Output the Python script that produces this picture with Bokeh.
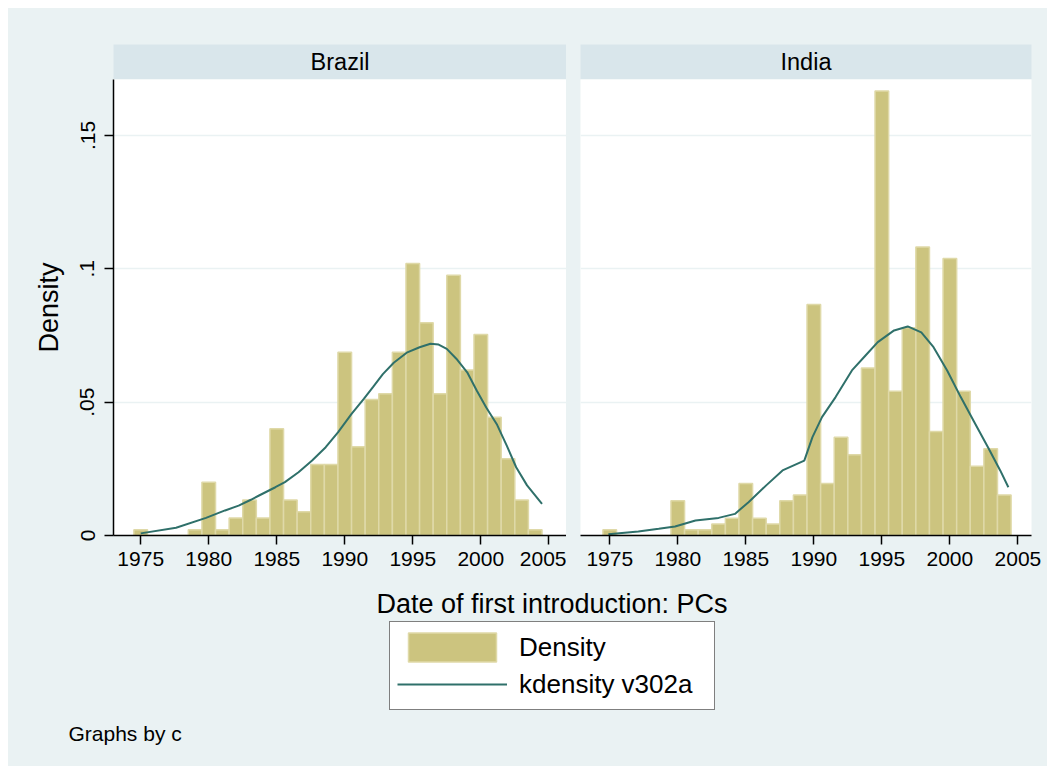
from bokeh.plotting import figure
from bokeh.layouts import column, row
from bokeh.models import Range1d, FixedTicker, Label, Legend, LegendItem
from bokeh.embed import file_html
from bokeh.resources import INLINE

# ---------------- data ----------------
years = list(range(1975, 2005))

brazil_density = [0.0022, 0.0, 0.0, 0.0, 0.0022, 0.0200, 0.0022, 0.0066, 0.0133, 0.0066,
                  0.0400, 0.0133, 0.0089, 0.0266, 0.0266, 0.0687, 0.0333, 0.0510, 0.0532, 0.0687,
                  0.1020, 0.0798, 0.0532, 0.0976, 0.0621, 0.0754, 0.0443, 0.0288, 0.0133, 0.0022]

india_density = [0.0022, 0.0, 0.0, 0.0, 0.0, 0.0130, 0.0022, 0.0022, 0.0043, 0.0065,
                 0.0195, 0.0065, 0.0043, 0.0130, 0.0152, 0.0866, 0.0195, 0.0368, 0.0303, 0.0628,
                 0.1667, 0.0541, 0.0779, 0.1082, 0.0390, 0.1039, 0.0541, 0.0260, 0.0325, 0.0152]

brazil_kx = [1975.0, 1977.6, 1979.8, 1981.2, 1982.2, 1983.1, 1983.7, 1984.9, 1985.6, 1986.6,
             1987.6, 1988.6, 1989.5, 1990.5, 1991.4, 1992.1, 1992.8, 1993.6, 1994.6, 1995.5,
             1996.3, 1996.9, 1997.5, 1998.2, 1999.0, 1999.7, 2000.4, 2001.2, 2001.9, 2002.6,
             2003.4, 2004.5]
brazil_ky = [0.0008, 0.0029, 0.0066, 0.0094, 0.0112, 0.0134, 0.0150, 0.0181, 0.0200, 0.0237,
             0.0281, 0.0331, 0.0387, 0.0456, 0.0512, 0.0558, 0.0605, 0.0648, 0.0687, 0.0706,
             0.0719, 0.0716, 0.0700, 0.0663, 0.0612, 0.0544, 0.0480, 0.0415, 0.0338, 0.0256,
             0.0188, 0.0119]

india_kx = [1974.9, 1977.1, 1978.6, 1979.8, 1981.3, 1983.0, 1984.2, 1985.2, 1986.5, 1987.7,
            1989.3, 1989.9, 1990.6, 1991.6, 1992.8, 1993.8, 1994.7, 1995.9, 1996.9, 1997.9,
            1998.8, 1999.8, 2000.8, 2001.8, 2002.8, 2003.7, 2004.3]
india_ky = [0.0005, 0.0015, 0.0025, 0.0034, 0.0056, 0.0066, 0.0081, 0.0125, 0.0188, 0.0244,
            0.0281, 0.0369, 0.0444, 0.0519, 0.0619, 0.0675, 0.0725, 0.0769, 0.0784, 0.0762,
            0.0706, 0.0619, 0.0519, 0.0425, 0.0331, 0.0244, 0.0181]

x_ticks = [1975, 1980, 1985, 1990, 1995, 2000, 2005]
y_ticks = [0, 0.05, 0.1, 0.15]
y_tick_labels = ["0", ".05", ".1", ".15"]
panel_names = ["Brazil", "India"]

# ---------------- style ----------------
FONT = "Liberation Sans"
BG = "#EAF2F3"
HDR = "#D9E6EB"
BAR = "#CCC47F"
BAR_EDGE = "#DFD9A8"
KD = "#2F706A"


def header(text, width, left, right):
    h = figure(width=width, height=71, x_range=Range1d(0, 1), y_range=Range1d(0, 1),
               toolbar_location=None, output_backend="svg", title=None,
               x_axis_location=None, y_axis_location=None,
               min_border_left=left, min_border_right=right,
               min_border_top=36, min_border_bottom=0)
    h.background_fill_color = HDR
    h.border_fill_color = BG
    h.outline_line_color = None
    h.grid.visible = False
    h.add_layout(Label(x=0.5, y=0.5, text=text, text_align="center", text_baseline="middle",
                       text_font=FONT, text_font_size="23.5px", text_color="black"))
    return h


def panel(xr, width, left, right, dens, kx, ky, with_yaxis):
    p = figure(width=width, height=506, x_range=Range1d(*xr), y_range=Range1d(0, 0.171),
               toolbar_location=None, output_backend="svg", title=None,
               y_axis_location="left" if with_yaxis else None,
               min_border_left=left, min_border_right=right,
               min_border_top=0, min_border_bottom=50)
    p.background_fill_color = "white"
    p.border_fill_color = BG
    p.outline_line_color = None
    p.xgrid.visible = False
    p.ygrid.ticker = FixedTicker(ticks=y_ticks[1:])
    p.ygrid.grid_line_color = BG
    p.ygrid.grid_line_width = 1.5

    p.vbar(x=years, top=dens, width=1, bottom=0, fill_color=BAR,
           line_color=BAR_EDGE, line_width=1.5)
    p.line(kx, ky, line_color=KD, line_width=2)

    xa = p.xaxis[0]
    xa.ticker = FixedTicker(ticks=x_ticks)
    xa.axis_line_color = "black"
    xa.axis_line_width = 1.5
    xa.major_tick_line_color = "black"
    xa.major_tick_line_width = 1.5
    xa.major_tick_out = 9
    xa.major_tick_in = 0
    xa.minor_tick_line_color = None
    xa.major_label_text_font = FONT
    xa.major_label_text_font_size = "21px"
    xa.major_label_text_color = "black"
    xa.major_label_standoff = 7

    if with_yaxis:
        ya = p.yaxis[0]
        ya.ticker = FixedTicker(ticks=y_ticks)
        ya.major_label_overrides = {t: l for t, l in zip(y_ticks, y_tick_labels)}
        ya.major_label_orientation = "vertical"
        ya.axis_line_color = "black"
        ya.axis_line_width = 1.5
        ya.major_tick_line_color = "black"
        ya.major_tick_line_width = 1.5
        ya.major_tick_out = 9
        ya.major_tick_in = 0
        ya.minor_tick_line_color = None
        ya.major_label_text_font = FONT
        ya.major_label_text_font_size = "21px"
        ya.major_label_text_color = "black"
        ya.major_label_standoff = 10
        ya.axis_label = "Density"
        ya.axis_label_text_font = FONT
        ya.axis_label_text_font_size = "27px"
        ya.axis_label_text_font_style = "normal"
        ya.axis_label_text_color = "black"
        ya.axis_label_standoff = 14
    return p


h1 = header(panel_names[0], 558, 105, 0)
p1 = panel((1973.0, 2006.3), 558, 105, 0, brazil_density, brazil_kx, brazil_ky, True)
h2 = header(panel_names[1], 481, 14, 16)
p2 = panel((1972.85, 2006.0), 481, 14, 16, india_density, india_kx, india_ky, False)

# bottom area: x title, legend, note
pb = figure(width=1039, height=181, x_range=Range1d(0, 1039), y_range=Range1d(0, 181),
            toolbar_location=None, output_backend="svg", title=None,
            x_axis_location=None, y_axis_location=None, min_border=0)
pb.background_fill_color = BG
pb.border_fill_color = BG
pb.outline_line_color = None
pb.grid.visible = False

# legend-only renderers (same data as the Brazil panel, kept hidden in this strip)
rb = pb.vbar(x=years, top=brazil_density, width=1, fill_color=BAR, line_color=BAR_EDGE,
             line_width=1.5, visible=False)
rl = pb.line(x=brazil_kx, y=brazil_ky, line_color=KD, line_width=2, visible=False)

pb.add_layout(Label(x=543.5, y=163, text="Date of first introduction: PCs", text_align="center",
                    text_baseline="middle", text_font=FONT, text_font_size="27px",
                    text_color="black"))
pb.add_layout(Label(x=60, y=33, text="Graphs by c", text_align="left",
                    text_baseline="middle", text_font=FONT, text_font_size="21px",
                    text_color="black"))

legend = Legend(items=[LegendItem(label="Density", renderers=[rb]),
                       LegendItem(label="kdensity v302a", renderers=[rl])],
                location=(381, 56), orientation="vertical",
                border_line_color="black", border_line_width=1.5,
                background_fill_color="white", background_fill_alpha=1.0,
                label_text_font=FONT, label_text_font_size="26px", label_text_color="black",
                glyph_width=110, glyph_height=36, label_height=36, label_width=188,
                spacing=1, padding=7, margin=0, label_standoff=12)
pb.add_layout(legend)

top = row(column(h1, p1, styles={"background-color": BG}),
          column(h2, p2, styles={"background-color": BG}),
          styles={"background-color": BG})
layout = column(top, pb, styles={"background-color": BG})
layout.margin = (8, 0, 0, 8)

open("out.html", "w").write(file_html(layout, INLINE))
